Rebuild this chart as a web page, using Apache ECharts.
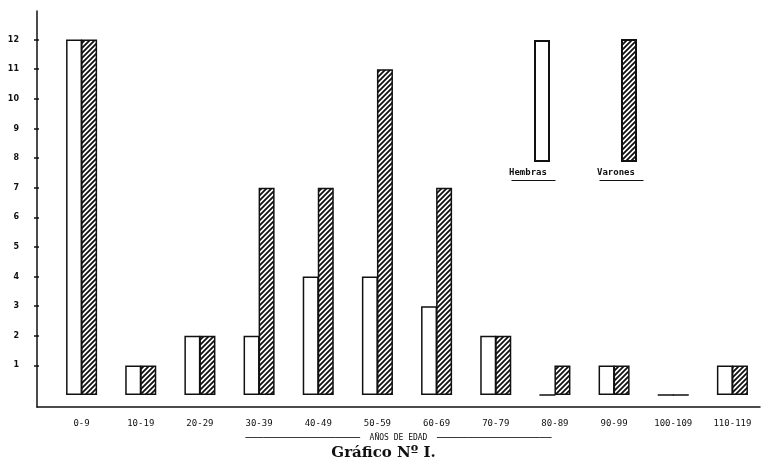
<!DOCTYPE html>
<html>
<head>
<meta charset="utf-8">
<script src="https://cdn.jsdelivr.net/npm/echarts@6/dist/echarts.min.js"></script>
<style>
  html, body { margin: 0; padding: 0; background: #fff; }
  #chart { width: 767px; height: 471px; }
</style>
</head>
<body>
<div id="chart"></div>
<script>
// grupos de edad y casos
const ageGroups = ["0-9", "10-19", "20-29", "30-39", "40-49", "50-59", "60-69", "70-79", "80-89", "90-99", "100-109", "110-119"];
const hembras = [12, 1, 2, 2, 4, 4, 3, 2, 0, 1, 0, 1];
const varones = [12, 1, 2, 7, 7, 11, 7, 2, 1, 1, 0, 1];
const yTicks = [1, 2, 3, 4, 5, 6, 7, 8, 9, 10, 11, 12];

// rayado diagonal para "Varones"
function hatch() {
  const c = document.createElement("canvas");
  c.width = 5; c.height = 5;
  const g = c.getContext("2d");
  g.fillStyle = "#fff";
  g.fillRect(0, 0, 5, 5);
  g.strokeStyle = "#111";
  g.lineWidth = 1.8;
  g.beginPath();
  g.moveTo(-1, 6); g.lineTo(6, -1);
  g.moveTo(-1, 1); g.lineTo(1, -1);
  g.moveTo(4, 6); g.lineTo(6, 4);
  g.stroke();
  return c;
}
const hatchFill = { image: hatch(), repeat: "repeat" };

const mono = "DejaVu Sans Mono";
const ch = echarts.init(document.getElementById("chart"));

ch.setOption({
  animation: false,
  backgroundColor: "#fff",
  title: {
    text: "Gráfico Nº I.",
    left: "center",
    bottom: 5,
    textStyle: { fontFamily: "DejaVu Serif", fontWeight: "bold", fontSize: 15, color: "#111" },
  },
  legend: [
    {
      data: ["Hembras"],
      left: 529, top: 35,
      itemWidth: 14, itemHeight: 120,
      icon: "rect",
      formatter: () => "",
    },
    {
      data: ["Varones"],
      left: 616, top: 34,
      itemWidth: 14, itemHeight: 121,
      icon: "rect",
      formatter: () => "",
    },
  ],
  graphic: [
    { type: "text", left: 509, top: 168, style: { text: "Hembras", font: "bold 9px " + mono, fill: "#111" } },
    { type: "line", left: 509, top: 178, shape: { x1: 0, y1: 0, x2: 44, y2: 0 }, style: { stroke: "#111", lineWidth: 1 } },
    { type: "text", left: 597, top: 168, style: { text: "Varones", font: "bold 9px " + mono, fill: "#111" } },
    { type: "line", left: 597, top: 178, shape: { x1: 0, y1: 0, x2: 44, y2: 0 }, style: { stroke: "#111", lineWidth: 1 } },
  ],
  grid: [
    { left: 37, right: 7, top: 11, bottom: 64 },
    { left: 52, right: 5, top: 10, bottom: 76 },
  ],
  xAxis: [
    {
      gridIndex: 0,
      type: "category",
      data: [],
      axisLine: { lineStyle: { color: "#111", width: 1.5 } },
      axisTick: { show: false },
      axisLabel: { show: false },
      name: "{d|───────────────────}  AÑOS DE EDAD  {d|───────────────────}",
      nameLocation: "middle",
      nameGap: 26,
      nameTextStyle: {
        fontFamily: mono, fontSize: 8, color: "#111",
        rich: { d: { fontFamily: "DejaVu Sans", fontSize: 10, color: "#111" } },
      },
    },
    {
      gridIndex: 1,
      type: "category",
      data: ageGroups,
      axisLine: { show: false },
      axisTick: { show: false },
      axisLabel: { margin: 24, fontFamily: mono, fontSize: 9, color: "#111", interval: 0 },
    },
  ],
  yAxis: [
    {
      gridIndex: 0,
      type: "value",
      axisLine: { show: true, lineStyle: { color: "#111", width: 1.5 } },
      axisTick: { show: false },
      axisLabel: { show: false },
      splitLine: { show: false },
    },
    {
      gridIndex: 1,
      type: "value",
      min: 0,
      max: 13,
      offset: 13,
      axisLine: { show: false },
      axisTick: { show: true, length: 5, customValues: yTicks, lineStyle: { color: "#111", width: 1.5 } },
      axisLabel: {
        customValues: yTicks, margin: 20,
        fontFamily: "DejaVu Sans", fontWeight: "bold", fontSize: 8, color: "#111",
      },
      splitLine: { show: false },
    },
  ],
  series: [
    {
      name: "Hembras",
      type: "bar",
      xAxisIndex: 1, yAxisIndex: 1,
      data: hembras,
      barWidth: 16,
      barGap: "-6%",
      itemStyle: { color: "#fff", borderColor: "#111", borderWidth: 1.5 },
    },
    {
      name: "Varones",
      type: "bar",
      xAxisIndex: 1, yAxisIndex: 1,
      data: varones,
      barWidth: 16,
      itemStyle: { color: hatchFill, borderColor: "#111", borderWidth: 1.5 },
    },
  ],
});
</script>
</body>
</html>
